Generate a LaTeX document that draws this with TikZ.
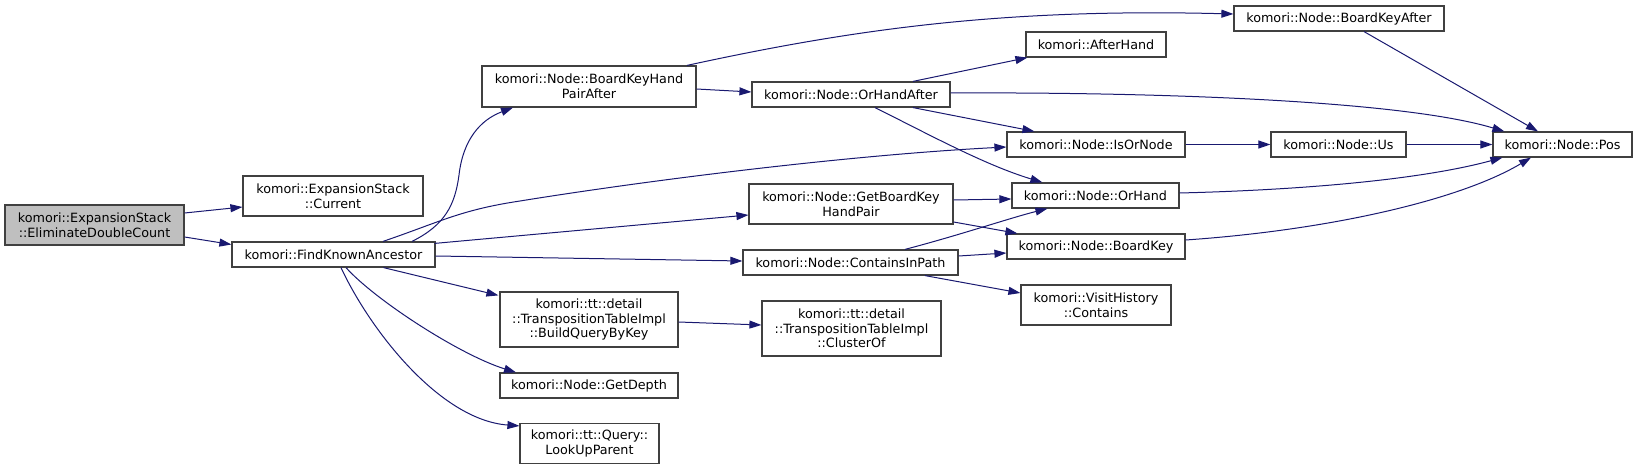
\documentclass[tikz,border=0pt]{standalone}
\usepackage{fontspec}
\setmainfont{DejaVu Sans}
\usetikzlibrary{arrows.meta,calc}
\definecolor{edgeblue}{HTML}{191970}
\definecolor{boxline}{HTML}{404040}
\definecolor{rootfill}{HTML}{BFBFBF}
\tikzset{
  fn/.style={draw=boxline, line width=1.2pt, fill=white, inner sep=0pt, align=center,
    font=\fontsize{12.75}{14.7}\selectfont},
  root/.style={fn, fill=rootfill},
  call/.style={draw=edgeblue, line width=1pt, -{Triangle[length=12pt,width=8pt]}},
}
\begin{document}
\begin{tikzpicture}[x=1pt,y=-1pt]
\useasboundingbox (0,0) rectangle (1637,470);
% nodes
\node[root, minimum width=179pt, minimum height=40pt] (edc) at (94.5,225) {komori::ExpansionStack\\::EliminateDoubleCount};
\node[fn, minimum width=180pt, minimum height=40pt] (cur) at (333,196) {komori::ExpansionStack\\::Current};
\node[fn, minimum width=203pt, minimum height=25pt] (fka) at (333.5,254.5) {komori::FindKnownAncestor};
\node[fn, minimum width=214pt, minimum height=41pt] (bkhpa) at (589,86.5) {komori::Node::BoardKeyHand\\PairAfter};
\node[fn, minimum width=198pt, minimum height=25pt] (oha) at (851,94.5) {komori::Node::OrHandAfter};
\node[fn, minimum width=210pt, minimum height=25pt] (bka) at (1339,18.5) {komori::Node::BoardKeyAfter};
\node[fn, minimum width=140pt, minimum height=25pt] (ah) at (1096,44.5) {komori::AfterHand};
\node[fn, minimum width=178pt, minimum height=25pt] (ion) at (1096,144.5) {komori::Node::IsOrNode};
\node[fn, minimum width=135pt, minimum height=25pt] (us) at (1338.5,144.5) {komori::Node::Us};
\node[fn, minimum width=139pt, minimum height=25pt] (pos) at (1562.5,144.5) {komori::Node::Pos};
\node[fn, minimum width=204pt, minimum height=40pt] (gbk) at (851,204) {komori::Node::GetBoardKey\\HandPair};
\node[fn, minimum width=167pt, minimum height=25pt] (oh) at (1095.5,195.5) {komori::Node::OrHand};
\node[fn, minimum width=215pt, minimum height=25pt] (cip) at (850.5,262.5) {komori::Node::ContainsInPath};
\node[fn, minimum width=178pt, minimum height=25pt] (bk) at (1096,246.5) {komori::Node::BoardKey};
\node[fn, minimum width=150pt, minimum height=40pt] (vh) at (1096,305) {komori::VisitHistory\\::Contains};
\node[fn, minimum width=178pt, minimum height=55pt] (bq) at (589,319.5) {komori::tt::detail\\::TranspositionTableImpl\\::BuildQueryByKey};
\node[fn, minimum width=179pt, minimum height=55pt] (co) at (851.5,328.5) {komori::tt::detail\\::TranspositionTableImpl\\::ClusterOf};
\node[fn, minimum width=178pt, minimum height=25pt] (gd) at (589,385.5) {komori::Node::GetDepth};
\node[fn, minimum width=139pt, minimum height=40pt] (lu) at (589.5,443.5) {komori::tt::Query::\\LookUpParent};
% edges
\draw[call] ($(edc.east)+(0,-12)$) -- ($(cur.west)+(0,11)$);
\draw[call] ($(edc.east)+(0,12)$) -- ($(fka.west)+(0,-10)$);
\draw[call] ($(fka.north)+(78.5,0)$) .. controls (445,225) and (455,205) .. (459,175)
  .. controls (463,140) and (480,120) .. ($(bkhpa.south)+(-76,0)$);
\draw[call] ($(fka.north)+(49.5,0)$) .. controls (440,222) and (460,210) .. (520,201)
  .. controls (650,180) and (850,155) .. ($(ion.west)+(0,2.5)$);
\draw[call] ($(fka.north east)+(-1,2)$) -- ($(gbk.west)+(0,11)$);
\draw[call] ($(fka.east)+(0,1.5)$) -- ($(cip.west)+(0,-1.5)$);
\draw[call] ($(fka.south)+(50,0)$) -- ($(bq.north west)+(-1,4)$);
\draw[call] ($(fka.south)+(12.5,0)$) .. controls (375,300) and (460,355) .. ($(gd.north)+(-73,0)$);
\draw[call] ($(fka.south)+(7.5,0)$) .. controls (370,330) and (440,420) .. ($(lu.north west)+(0,3)$);
\draw[call] ($(bkhpa.north)+(98,0)$) .. controls (850,30) and (1000,8) .. ($(bka.west)+(0,-4.5)$);
\draw[call] ($(bkhpa.east)+(0,2.5)$) -- ($(oha.west)+(0,-2.5)$);
\draw[call] ($(oha.north)+(62,0)$) -- ($(ah.south west)+(2,0)$);
\draw[call] ($(oha.east)+(0,-1.5)$) .. controls (1150,92) and (1400,100) .. ($(pos.north west)+(12,0)$);
\draw[call] ($(oha.south)+(62,0)$) -- ($(ion.north west)+(28,0)$);
\draw[call] ($(oha.south)+(24,0)$) .. controls (930,135) and (985,165) .. ($(oh.north west)+(31,0)$);
\draw[call] ($(bka.south)+(25,0)$) -- ($(pos.north)+(-24.5,0)$);
\draw[call] (ion.east) -- (us.west);
\draw[call] (us.east) -- (pos.west);
\draw[call] ($(oh.east)+(0,-2.5)$) .. controls (1300,190) and (1420,180) .. ($(pos.south west)+(10,0)$);
\draw[call] ($(bk.east)+(0,-6.5)$) .. controls (1330,230) and (1460,200) .. ($(pos.south)+(-31.5,0)$);
\draw[call] ($(gbk.east)+(0,-4)$) -- ($(oh.west)+(0,3.5)$);
\draw[call] ($(gbk.east)+(0,18)$) -- ($(bk.north west)+(11,0)$);
\draw[call] ($(cip.north)+(54.5,0)$) .. controls (960,235) and (1010,218) .. ($(oh.south west)+(36,0)$);
\draw[call] ($(cip.east)+(0,-6.5)$) -- ($(bk.west)+(0,6.5)$);
\draw[call] ($(cip.south)+(74.5,0)$) -- ($(vh.west)+(0,-12)$);
\draw[call] ($(bq.east)+(0,2.5)$) -- ($(co.west)+(0,-3.5)$);
\end{tikzpicture}
\end{document}
